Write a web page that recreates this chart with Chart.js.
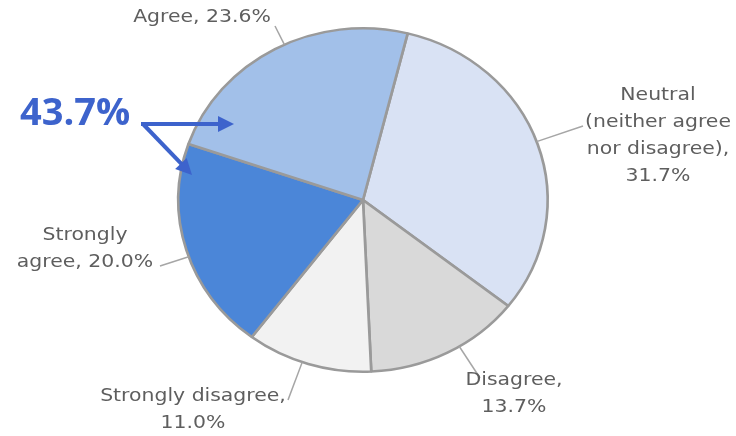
<!DOCTYPE html>
<html>
<head>
<meta charset="utf-8">
<script src="https://cdn.jsdelivr.net/npm/chart.js@4"></script>
<style>
  html, body { margin: 0; padding: 0; background: #fff; }
  #wrap { width: 736px; height: 436px; }
</style>
</head>
<body>
<div id="wrap"><canvas id="myChart" width="736" height="436"></canvas></div>
<script>
// categories, in drawing order (clockwise from the top)
const categories = ['Neutral (neither agree nor disagree)', 'Disagree', 'Strongly disagree', 'Strongly agree', 'Agree'];
const shares = [31.7, 13.7, 11.0, 20.0, 23.6];
const sliceColors = ['#d9e2f4', '#d9d9d9', '#f2f2f2', '#4b86d8', '#a2c0e9'];
// label text lines; the share is added to the last line or as a new line
const labelLines = [
    ['Neutral', '(neither agree', 'nor disagree),'],
    ['Disagree,'],
    ['Strongly disagree,'],
    ['Strongly', 'agree,'],
    ['Agree,']
];
const shareOnSameLine = [false, false, false, true, true];
const highlightText = '43.7%';

// the pie in the picture is a little wider than tall
const stretchX = 1.075;

// where each label sits (x of centre, y of first line) and where its leader ends
const labelLayout = [
    { x: 658, y: 96, lx: 583, ly: 126 },
    { x: 514, y: 381, lx: 480, ly: 378 },
    { x: 193, y: 397, lx: 288, ly: 400 },
    { x: 85, y: 236, lx: 160, ly: 266 },
    { x: 202, y: 18, lx: 275, ly: 26 }
];

function pct(v) {
    return v.toFixed(1) + '%';
}

const ellipsePie = {
    id: 'ellipsePie',
    beforeDatasetsDraw(chart) {
        const arc = chart.getDatasetMeta(0).data[0];
        const c = chart.ctx;
        c.save();
        c.translate(arc.x, arc.y);
        c.scale(stretchX, 1);
        c.translate(-arc.x, -arc.y);
    },
    afterDatasetsDraw(chart) {
        chart.ctx.restore();
    }
};

const outsideLabels = {
    id: 'outsideLabels',
    afterDraw(chart) {
        const ctx = chart.ctx;
        const arcs = chart.getDatasetMeta(0).data;
        ctx.save();
        arcs.forEach((arc, i) => {
            const lay = labelLayout[i];
            const r = arc.outerRadius;
            const dx = (lay.lx - arc.x) / stretchX, dy = lay.ly - arc.y;
            const d = Math.sqrt(dx * dx + dy * dy);
            ctx.strokeStyle = '#a6a6a6';
            ctx.lineWidth = 1.5;
            ctx.beginPath();
            ctx.moveTo(arc.x + dx / d * r * stretchX, arc.y + dy / d * r);
            ctx.lineTo(lay.lx, lay.ly);
            ctx.stroke();

            const lines = labelLines[i].slice();
            if (shareOnSameLine[i]) {
                lines[lines.length - 1] += ' ' + pct(shares[i]);
            } else {
                lines.push(pct(shares[i]));
            }
            ctx.fillStyle = '#5e5e5e';
            ctx.font = '17px "DejaVu Sans"';
            ctx.textAlign = 'center';
            ctx.textBaseline = 'middle';
            lines.forEach((t, k) => {
                ctx.save();
                ctx.translate(lay.x, lay.y + k * 27);
                ctx.scale(1.2, 1);
                ctx.fillText(t, 0, 0);
                ctx.restore();
            });
        });

        // callout: agree + strongly agree
        const col = '#3d63cc';
        ctx.fillStyle = col;
        ctx.font = 'bold 38px "Open Sans"';
        ctx.textAlign = 'left';
        ctx.textBaseline = 'middle';
        ctx.fillText(highlightText, 20, 114);

        function arrow(x1, y1, x2, y2) {
            const a = Math.atan2(y2 - y1, x2 - x1);
            ctx.strokeStyle = col;
            ctx.lineWidth = 4;
            ctx.beginPath();
            ctx.moveTo(x1, y1);
            ctx.lineTo(x2 - 8 * Math.cos(a), y2 - 8 * Math.sin(a));
            ctx.stroke();
            ctx.beginPath();
            ctx.moveTo(x2, y2);
            ctx.lineTo(x2 - 16 * Math.cos(a) + 8 * Math.sin(a), y2 - 16 * Math.sin(a) - 8 * Math.cos(a));
            ctx.lineTo(x2 - 16 * Math.cos(a) - 8 * Math.sin(a), y2 - 16 * Math.sin(a) + 8 * Math.cos(a));
            ctx.closePath();
            ctx.fill();
        }
        arrow(141, 124, 234, 124);
        arrow(143, 124, 192, 175);
        ctx.restore();
    }
};

const ctx = document.getElementById('myChart').getContext('2d');
const chart = new Chart(ctx, {
    type: 'pie',
    data: {
        labels: categories,
        datasets: [{
            data: shares,
            backgroundColor: sliceColors,
            borderColor: '#9a9a9a',
            borderWidth: 2.5
        }]
    },
    options: {
        responsive: false,
        animation: false,
        rotation: 14,
        layout: {
            padding: { left: 190, right: 200, top: 27, bottom: 63 }
        },
        plugins: {
            legend: { display: false },
            tooltip: { enabled: false }
        }
    },
    plugins: [ellipsePie, outsideLabels]
});
</script>
</body>
</html>
